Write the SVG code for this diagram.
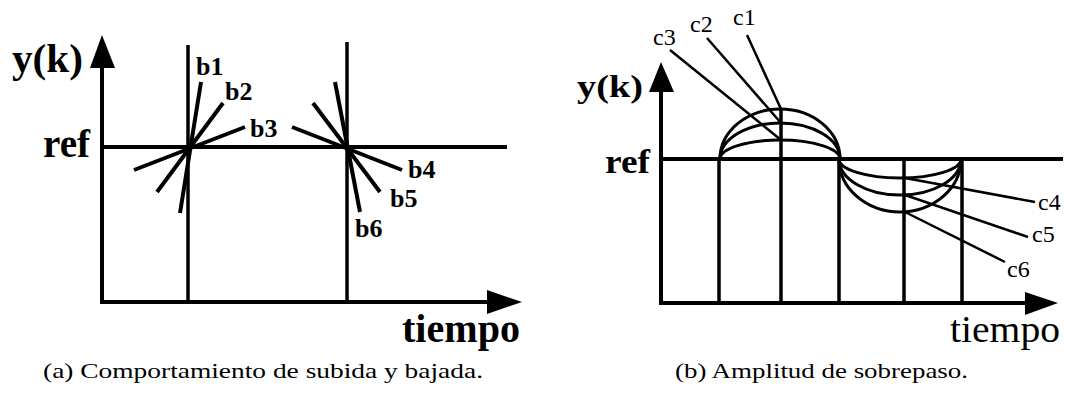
<svg xmlns="http://www.w3.org/2000/svg" width="1065" height="402" viewBox="0 0 1065 402">
<style>
.ln{stroke:#000;stroke-width:4;fill:none;stroke-linecap:butt}
.ln2{stroke:#000;stroke-width:3.5;fill:none}
.arc{stroke:#000;stroke-width:3;fill:none}
.ld{stroke:#000;stroke-width:2.5;fill:none}
.ah{fill:#000}
.big{font-family:"Liberation Serif","Times New Roman",serif;font-weight:bold;fill:#000}
.bigr{font-family:"Liberation Serif","Times New Roman",serif;fill:#000}
.lab{font-family:"Liberation Serif","Times New Roman",serif;font-weight:bold;font-size:26px;fill:#000}
.labr{font-family:"Liberation Serif","Times New Roman",serif;font-size:24px;fill:#000}
.cap{font-family:"Liberation Serif","Times New Roman",serif;font-size:22px;fill:#000}
</style>
<rect width="1065" height="402" fill="#fff"/>

<g id="panel-a">
  <g id="axes-a">
    <line class="ln" x1="102" y1="302" x2="102" y2="66"/>
    <polygon class="ah" points="102,35 90,68 115,68"/>
    <line class="ln" x1="100" y1="302" x2="489" y2="302"/>
    <polygon class="ah" points="522,302 487,290 487,314"/>
    <line class="ln" x1="102" y1="147" x2="507" y2="147"/>
    <line class="ln2" x1="188" y1="45" x2="188" y2="302"/>
    <line class="ln2" x1="347" y1="42" x2="347" y2="302"/>
  </g>
  <g id="rise-lines">
    <line class="ln" x1="201" y1="82" x2="180" y2="213"/>
    <line class="ln" x1="223" y1="103" x2="157" y2="192"/>
    <line class="ln" x1="245" y1="127" x2="134" y2="170"/>
  </g>
  <g id="fall-lines">
    <line class="ln" x1="335" y1="82" x2="360" y2="212"/>
    <line class="ln" x1="313" y1="103" x2="380" y2="192"/>
    <line class="ln" x1="292" y1="127" x2="402" y2="170"/>
  </g>
  <g id="labels-a">
    <text class="big" x="12" y="72" font-size="40" textLength="71" lengthAdjust="spacingAndGlyphs">y(k)</text>
    <text class="big" x="43" y="157" font-size="40" textLength="47" lengthAdjust="spacingAndGlyphs">ref</text>
    <text class="big" x="402" y="342" font-size="40" textLength="118" lengthAdjust="spacingAndGlyphs">tiempo</text>
    <text class="lab" x="196" y="75">b1</text>
    <text class="lab" x="225" y="100">b2</text>
    <text class="lab" x="250" y="137">b3</text>
    <text class="lab" x="408" y="178">b4</text>
    <text class="lab" x="390" y="207">b5</text>
    <text class="lab" x="355" y="237">b6</text>
  </g>
  <text id="caption-a" class="cap" x="43" y="378" textLength="440" lengthAdjust="spacingAndGlyphs">(a) Comportamiento de subida y bajada.</text>
</g>

<g id="panel-b">
  <g id="axes-b">
    <line class="ln" x1="661" y1="303" x2="661" y2="90"/>
    <polygon class="ah" points="661,62 649,92 674,92"/>
    <line class="ln" x1="659" y1="303" x2="1027" y2="303"/>
    <polygon class="ah" points="1058,303 1025,292 1025,315"/>
    <line class="ln" x1="661" y1="159" x2="1063" y2="159"/>
    <line class="ln2" x1="719" y1="159" x2="719" y2="303"/>
    <line class="ln2" x1="781" y1="108" x2="781" y2="303"/>
    <line class="ln2" x1="839" y1="159" x2="839" y2="303"/>
    <line class="ln2" x1="904" y1="159" x2="904" y2="303"/>
    <line class="ln2" x1="962" y1="159" x2="962" y2="303"/>
  </g>
  <g id="overshoot-arcs">
    <path class="arc" d="M720,159 A60,50 0 0 1 840,159"/>
    <path class="arc" d="M720,159 A60,36 0 0 1 840,159"/>
    <path class="arc" d="M720,159 A60,19 0 0 1 840,159"/>
  </g>
  <g id="undershoot-arcs">
    <path class="arc" d="M839,159 A61,53 0 0 0 961,159"/>
    <path class="arc" d="M839,159 A61,36 0 0 0 961,159"/>
    <path class="arc" d="M839,159 A61,19 0 0 0 961,159"/>
  </g>
  <g id="connectors">
    <line class="ld" x1="747" y1="35" x2="781" y2="109"/>
    <line class="ld" x1="707" y1="38" x2="781" y2="123"/>
    <line class="ld" x1="670" y1="50" x2="781" y2="140"/>
    <line class="ld" x1="1035" y1="202" x2="905" y2="178"/>
    <line class="ld" x1="1028" y1="237" x2="905" y2="195"/>
    <line class="ld" x1="1005" y1="262" x2="905" y2="212"/>
  </g>
  <g id="labels-b">
    <text class="big" x="577" y="97" font-size="32" textLength="66" lengthAdjust="spacingAndGlyphs">y(k)</text>
    <text class="big" x="605" y="173" font-size="34" textLength="45" lengthAdjust="spacingAndGlyphs">ref</text>
    <text class="bigr" x="950" y="342" font-size="38" textLength="110" lengthAdjust="spacingAndGlyphs">tiempo</text>
    <text class="labr" x="733" y="25">c1</text>
    <text class="labr" x="690" y="32">c2</text>
    <text class="labr" x="653" y="45">c3</text>
    <text class="labr" x="1038" y="210">c4</text>
    <text class="labr" x="1032" y="242">c5</text>
    <text class="labr" x="1007" y="277">c6</text>
  </g>
  <text id="caption-b" class="cap" x="675" y="378" textLength="293" lengthAdjust="spacingAndGlyphs">(b) Amplitud de sobrepaso.</text>
</g>
</svg>
